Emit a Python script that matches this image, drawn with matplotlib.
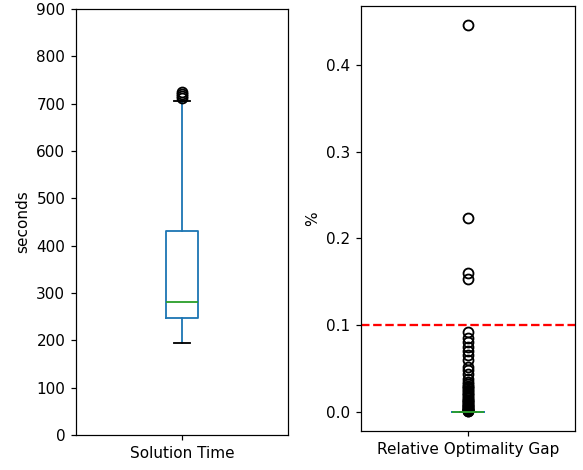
import matplotlib
matplotlib.use("Agg")
import matplotlib.pyplot as plt
import numpy as np

# Solution time (seconds)
solution_time = [195, 205, 215, 222, 228, 232, 236, 239, 242, 244,
                 247, 252, 256, 260, 263, 266, 270, 273, 276, 279,
                 282, 290, 300, 315, 330, 345, 360, 380, 400, 418,
                 432, 450, 480, 520, 570, 630, 705, 712, 716, 720, 724]

# Relative optimality gap (%)
gap_nonzero = [0.446, 0.224, 0.160, 0.153, 0.092, 0.085, 0.080, 0.075, 0.070,
               0.065, 0.060, 0.052, 0.048, 0.044, 0.038, 0.034, 0.032, 0.030,
               0.028, 0.027, 0.025, 0.024, 0.022, 0.020, 0.019, 0.017, 0.016,
               0.014, 0.013, 0.012, 0.011, 0.010, 0.009, 0.008, 0.007, 0.006,
               0.005, 0.004, 0.0035, 0.003, 0.0025, 0.002, 0.0015, 0.001, 0.0005]
gap_zero_count = 150
opt_gap = gap_nonzero + [0.0] * gap_zero_count
threshold = 0.1

W, H = 583, 470
DPI = 110
fig = plt.figure(figsize=(W / DPI, H / DPI), dpi=DPI)

ax1 = fig.add_axes([76 / W, 1 - 435 / H, (288 - 76) / W, (435 - 9) / H])
ax2 = fig.add_axes([361 / W, 1 - 431 / H, (575 - 361) / W, (431 - 6) / H])

lw = 1.2
box_kw = dict(
    boxprops=dict(color="#1f77b4", linewidth=lw),
    whiskerprops=dict(color="#1f77b4", linewidth=lw),
    medianprops=dict(color="#2ca02c", linewidth=lw),
    capprops=dict(color="black", linewidth=lw),
    flierprops=dict(marker="o", markerfacecolor="none", markeredgecolor="black",
                    markersize=6.5, markeredgewidth=1.2),
)

ax1.boxplot([solution_time], **box_kw)
ax1.set_xticks([1])
ax1.set_xticklabels(["Solution Time"])
ax1.set_ylim(0, 900)
ax1.set_ylabel("seconds")

ax2.boxplot([opt_gap], **box_kw)
ax2.set_xticks([1])
ax2.set_xticklabels(["Relative Optimality Gap"])
ax2.axhline(threshold, color="red", linestyle="--", linewidth=1.5)
ax2.set_ylabel("%")

fig.savefig("out.png", dpi=DPI)
